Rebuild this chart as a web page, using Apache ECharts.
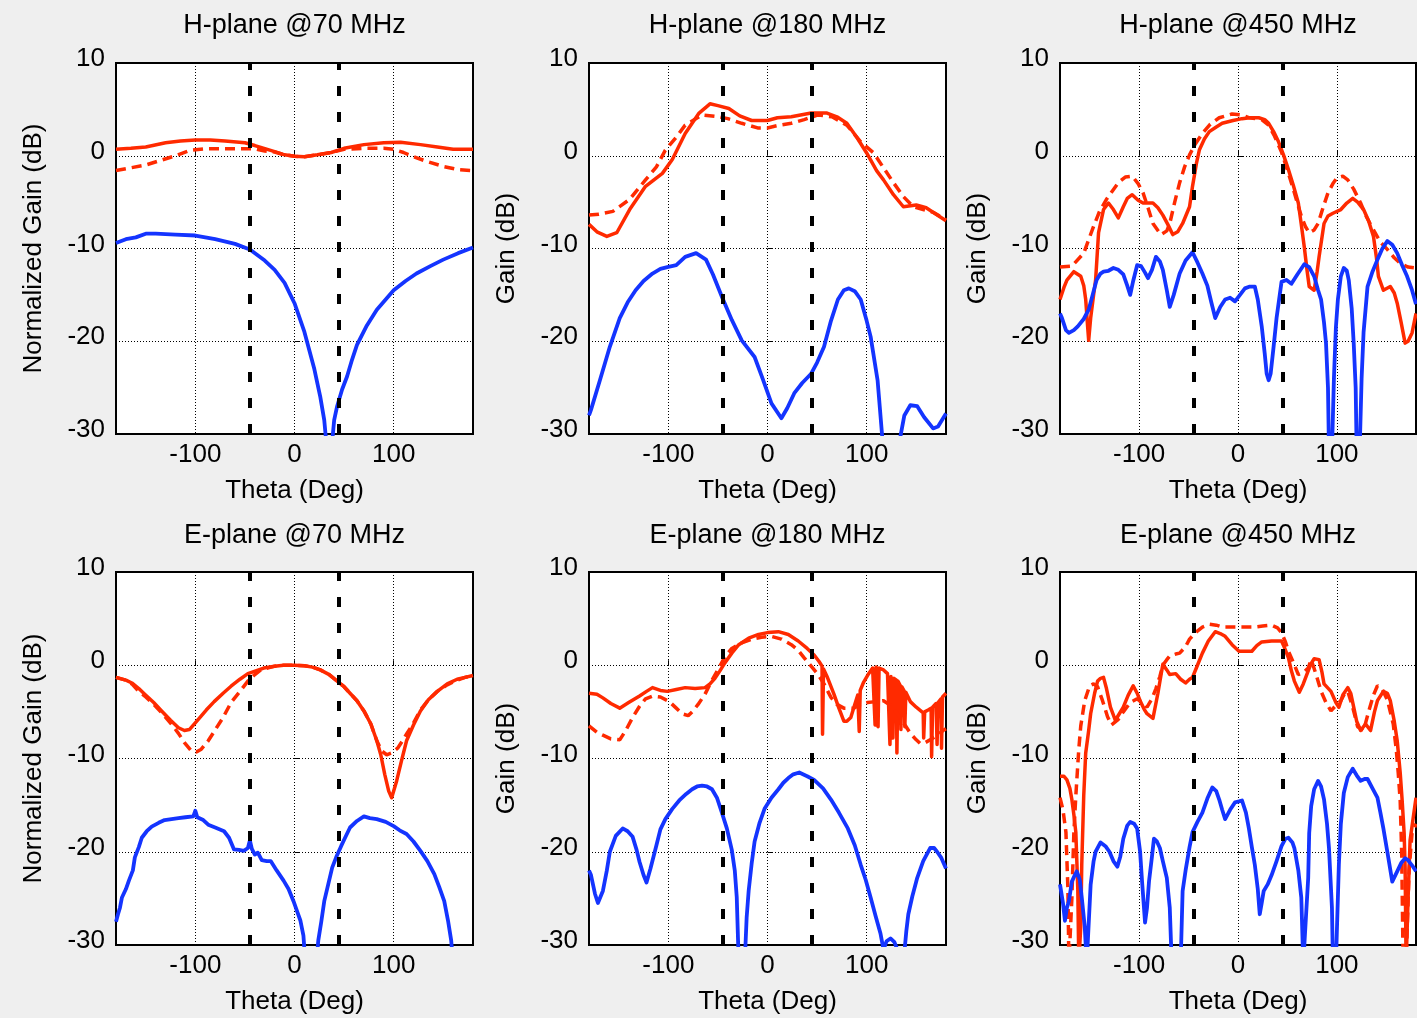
<!DOCTYPE html>
<html><head><meta charset="utf-8">
<script src="https://cdn.jsdelivr.net/npm/echarts@6/dist/echarts.min.js"></script>
<style>html,body{margin:0;padding:0;background:#efefef;}#c{width:1417px;height:1018px;}</style>
</head><body><div id="c"></div>
<script>
const titles = ['H-plane @70 MHz','H-plane @180 MHz','H-plane @450 MHz','E-plane @70 MHz','E-plane @180 MHz','E-plane @450 MHz'];
const yNames = ['Normalized Gain (dB)','Gain (dB)','Gain (dB)','Normalized Gain (dB)','Gain (dB)','Gain (dB)'];
const xName = 'Theta (Deg)';
const xTicks = [-100, 0, 100];
const beamEdges = [-45, 45];

// H-plane 70 MHz
const h70Red = [[-180,0.7],[-165,0.8],[-150,0.95],[-130,1.4],[-115,1.6],[-100,1.7],[-85,1.7],[-70,1.6],[-50,1.4],[-40,1.1],[-34,0.9],[-20,0.45],[-10,0.1],[0,-0.05],[10,-0.1],[23,0.1],[37,0.35],[50,0.8],[70,1.2],[90,1.4],[107,1.45],[127,1.2],[144,0.95],[160,0.7],[180,0.7]];
const h70RedDash = [[-180,-1.6],[-165,-1.3],[-150,-1.0],[-135,-0.5],[-120,0.0],[-105,0.6],[-90,0.75],[-70,0.75],[-50,0.75],[-40,0.75],[-30,0.5],[-20,0.4],[-10,0.1],[0,-0.05],[10,-0.1],[23,0.1],[37,0.35],[50,0.7],[70,0.8],[90,0.8],[100,0.7],[110,0.35],[120,-0.1],[133,-0.6],[150,-1.15],[165,-1.5],[180,-1.6]];
const h70Blue = [[-180,-9.4],[-170,-9.0],[-160,-8.8],[-150,-8.4],[-140,-8.4],[-120,-8.5],[-100,-8.6],[-80,-9.0],[-60,-9.5],[-45,-10.1],[-30,-11.3],[-20,-12.3],[-10,-13.7],[0,-15.9],[10,-19],[20,-23],[26,-26],[30,-28.5],[33,-32],[37,-32],[40,-28.5],[43,-27],[48,-25.2],[53,-23.8],[58,-22],[63,-20.4],[73,-18.3],[83,-16.6],[100,-14.5],[112,-13.5],[123,-12.7],[137,-11.9],[150,-11.2],[165,-10.5],[180,-9.9]];

// H-plane 180 MHz
const h180Red = [[-180,-7.4],[-172,-8.2],[-162,-8.7],[-152,-8.3],[-139,-5.8],[-123,-3.3],[-106,-1.9],[-96,-0.4],[-83,2.4],[-69,4.6],[-58,5.6],[-50,5.4],[-39,5.1],[-28,4.3],[-16,3.8],[0,3.8],[10,4.1],[24,4.2],[44,4.6],[60,4.6],[70,4.2],[80,3.5],[90,2.0],[100,0.3],[110,-1.6],[117,-2.6],[127,-4.2],[137,-5.5],[150,-5.3],[160,-5.6],[170,-6.3],[180,-7.0]];
const h180RedDash = [[-180,-6.4],[-170,-6.3],[-156,-6.0],[-139,-4.7],[-123,-2.6],[-112,-1.2],[-103,0.6],[-92,2.0],[-83,3.3],[-66,4.4],[-49,4.2],[-40,4.0],[-26,3.5],[-10,3.0],[0,3.0],[12,3.3],[24,3.5],[37,3.9],[51,4.4],[65,4.2],[80,3.3],[94,1.5],[107,0.3],[117,-1.3],[127,-2.9],[137,-4.4],[147,-5.5],[157,-5.8],[167,-6.1],[180,-6.9]];
const h180Blue = [[-180,-28],[-178,-27.4],[-169,-24.2],[-159,-20.6],[-149,-17.5],[-141,-15.8],[-133,-14.5],[-125,-13.5],[-116,-12.7],[-108,-12.2],[-101,-12.0],[-92,-11.8],[-83,-10.9],[-72,-10.5],[-62,-11.2],[-55,-12.8],[-46,-15.2],[-36,-17.7],[-26,-19.9],[-13,-21.7],[-5,-24.0],[4,-26.7],[14,-28.3],[20,-27.2],[27,-25.6],[35,-24.5],[44,-23.5],[50,-22.3],[57,-20.6],[64,-17.8],[71,-15.5],[77,-14.5],[82,-14.3],[88,-14.6],[94,-15.5],[100,-17.8],[104,-19.5],[111,-24.2],[117,-32],[131,-32],[138,-28.0],[144,-26.9],[151,-27.0],[158,-28.2],[167,-29.4],[172,-29.2],[180,-27.8]];

// H-plane 450 MHz
const h450Red = [[-180,-15.5],[-176,-14.2],[-173,-13.4],[-166,-12.5],[-159,-13.0],[-156,-14.0],[-154,-15.5],[-152,-18.5],[-151,-19.9],[-149,-17.5],[-146,-15],[-144,-13.4],[-141,-8.3],[-136,-5.8],[-131,-5.1],[-126,-5.8],[-121,-6.7],[-116,-5.5],[-112,-4.6],[-107,-4.2],[-101,-4.8],[-96,-5.1],[-86,-5.1],[-81,-5.6],[-76,-6.4],[-71,-7.4],[-66,-8.5],[-61,-8.2],[-56,-7.3],[-49,-5.5],[-46,-3.3],[-42,-0.8],[-39,0.65],[-34,1.8],[-29,2.6],[-22,3.1],[-16,3.5],[-5,3.8],[4,4.0],[12,4.1],[21,4.1],[27,3.9],[31,3.5],[36,2.6],[41,1.5],[46,0.1],[51,-1.5],[56,-3.2],[61,-5.1],[64,-7.4],[67,-9.8],[70,-12.5],[72,-14.1],[77,-14.5],[80,-12.5],[82,-10.9],[87,-7.3],[91,-6.5],[96,-6.2],[104,-5.8],[110,-5.1],[116,-4.6],[121,-5.0],[127,-5.8],[132,-7.0],[137,-8.7],[140,-11],[142,-13.0],[147,-14.5],[154,-14.1],[158,-14.8],[161,-15.9],[165,-18],[169,-20.2],[172,-20.0],[176,-19.1],[180,-17]];
const h450RedDash = [[-180,-12.0],[-168,-11.9],[-156,-10.5],[-146,-7.6],[-140,-6.0],[-133,-4.7],[-127,-3.8],[-121,-2.9],[-114,-2.3],[-107,-2.2],[-101,-3.0],[-96,-4.0],[-91,-5.6],[-86,-7.3],[-78,-8.5],[-72,-8.1],[-69,-7.3],[-64,-5.0],[-59,-2.9],[-54,-1.2],[-49,0.1],[-43,1.3],[-36,2.4],[-28,3.4],[-19,4.1],[-6,4.5],[3,4.4],[11,4.1],[24,3.9],[31,3.3],[37,2.1],[44,0.4],[51,-1.9],[57,-4.0],[64,-6.5],[68,-7.6],[72,-8.3],[77,-8.0],[81,-7.3],[86,-5.6],[91,-4.0],[96,-3.0],[100,-2.4],[106,-2.2],[111,-2.6],[117,-3.6],[124,-5.1],[130,-6.6],[137,-8.0],[144,-9.3],[151,-10.1],[158,-11.0],[164,-11.6],[172,-12.0],[180,-12.1]];
const h450Blue = [[-180,-17],[-178,-17.5],[-174,-18.8],[-171,-19.1],[-166,-18.8],[-162,-18.4],[-156,-17.6],[-151,-16.6],[-147,-15.0],[-143,-13.4],[-139,-12.7],[-136,-12.5],[-131,-12.4],[-126,-12.1],[-121,-12.3],[-116,-12.8],[-112,-14.0],[-109,-15.0],[-106,-13.5],[-102,-11.8],[-98,-11.9],[-94,-12.6],[-91,-13.2],[-87,-12.3],[-83,-10.9],[-79,-11.4],[-76,-12.3],[-72,-14.5],[-69,-16.3],[-65,-15.0],[-59,-12.7],[-53,-11.3],[-46,-10.4],[-41,-11.5],[-36,-12.7],[-31,-14.0],[-27,-15.8],[-23,-17.5],[-18,-16.3],[-13,-15.5],[-8,-15.3],[-3,-15.7],[2,-15.0],[7,-14.3],[12,-14.1],[17,-14.1],[20,-15.5],[24,-18.4],[27,-21.3],[29,-23.5],[31,-24.2],[33,-23.5],[36,-20.6],[39,-17.5],[44,-13.6],[49,-13.4],[54,-13.8],[60,-12.8],[67,-11.7],[72,-12.0],[77,-13.0],[81,-14.5],[84,-15.5],[87,-18],[89,-20.2],[91,-25],[92,-32],[95,-32],[97,-24],[99,-18.5],[101,-15.5],[104,-13.0],[107,-12.1],[110,-12.4],[112,-13.4],[115,-16.5],[117,-20.2],[119,-25],[120,-32],[123,-32],[125,-24],[127,-19],[131,-14.1],[136,-12.5],[141,-11.2],[146,-10.0],[151,-9.2],[156,-9.6],[161,-10.5],[166,-11.8],[171,-13.0],[176,-14.5],[180,-16.0]];

// E-plane 70 MHz
const e70Red = [[-180,-1.3],[-170,-1.6],[-164,-1.9],[-157,-2.5],[-151,-3.1],[-142,-4.0],[-134,-4.9],[-125,-5.9],[-117,-6.7],[-111,-7.0],[-106,-6.9],[-97,-5.8],[-89,-4.8],[-81,-3.9],[-72,-3.0],[-64,-2.25],[-55,-1.5],[-47,-0.9],[-39,-0.6],[-31,-0.3],[-20,-0.1],[-11,0],[0,0],[10,-0.05],[18,-0.2],[26,-0.5],[35,-1.0],[43,-1.7],[50,-2.3],[56,-3.0],[63,-3.8],[70,-4.9],[77,-6.3],[83,-8.1],[87,-9.6],[91,-11.7],[95,-13.5],[98,-14.2],[100,-14.1],[103,-12.4],[108,-10.2],[113,-8.1],[120,-6.4],[127,-4.9],[135,-3.7],[144,-2.8],[154,-2.0],[164,-1.5],[172,-1.3],[180,-1.1]];
const e70RedDash = [[-180,-1.3],[-170,-1.6],[-164,-2.0],[-157,-2.8],[-151,-3.3],[-142,-4.2],[-134,-5.1],[-125,-6.2],[-117,-7.3],[-111,-8.3],[-104,-9.2],[-99,-9.3],[-94,-9.0],[-87,-8.1],[-81,-7.1],[-72,-5.6],[-64,-4.0],[-55,-2.8],[-47,-1.7],[-40,-1.0],[-34,-0.5],[-20,-0.1],[-11,0],[0,0],[10,-0.05],[18,-0.2],[26,-0.5],[35,-1.0],[43,-1.7],[50,-2.3],[56,-3.0],[63,-3.8],[70,-4.9],[77,-6.3],[83,-8.1],[88,-9.2],[93,-9.6],[98,-9.4],[104,-8.9],[109,-8.1],[114,-7.2],[119,-6.4],[127,-4.8],[135,-3.7],[144,-2.8],[154,-2.1],[164,-1.6],[172,-1.3],[180,-1.1]];
const e70Blue = [[-180,-27.5],[-178,-26.7],[-176,-26.0],[-174,-24.9],[-170,-24.0],[-167,-23.1],[-163,-22.0],[-161,-20.6],[-157,-19.5],[-154,-18.5],[-149,-17.8],[-144,-17.3],[-137,-16.9],[-131,-16.6],[-124,-16.5],[-117,-16.4],[-110,-16.3],[-102,-16.2],[-100,-15.6],[-98,-16.3],[-92,-16.6],[-87,-17.1],[-80,-17.4],[-71,-17.8],[-66,-18.5],[-61,-19.75],[-56,-19.8],[-51,-19.9],[-47,-19.6],[-45,-18.8],[-43,-19.7],[-40,-20.3],[-37,-20.1],[-33,-20.9],[-28,-21.0],[-24,-21.0],[-18,-22.0],[-11,-23.1],[-6,-24.0],[-1,-25.3],[3,-26.5],[6,-27.4],[9,-29.0],[11,-32],[22,-32],[24,-29.5],[27,-27.5],[30,-25.3],[34,-23.5],[38,-21.7],[42,-20.6],[47,-19.4],[51,-18.5],[56,-17.4],[63,-16.7],[70,-16.2],[76,-16.4],[83,-16.5],[92,-16.8],[100,-17.25],[106,-17.7],[113,-18.1],[120,-18.9],[127,-19.9],[134,-21.0],[141,-22.4],[146,-23.8],[151,-25.3],[155,-27.5],[158,-29.5],[160,-32]];

// E-plane 180 MHz
const e180Red = [[-180,-3.0],[-172,-3.1],[-166,-3.5],[-158,-4.1],[-149,-4.6],[-140,-4.0],[-129,-3.3],[-122,-2.8],[-116,-2.4],[-108,-2.7],[-101,-2.8],[-92,-2.6],[-83,-2.4],[-73,-2.5],[-63,-2.4],[-58,-2.0],[-53,-1.4],[-48,-0.6],[-43,0.25],[-36,1.3],[-29,2.2],[-19,2.9],[-9,3.3],[0,3.5],[11,3.6],[21,3.3],[31,2.6],[40,1.8],[47,1.1],[52,0.4],[55,-0.1],[55.5,-7.4],[56.5,-0.4],[60,-1.2],[67,-3.1],[72,-4.6],[77,-6.0],[80,-6.0],[84,-5.6],[88,-4.2],[91,-3.2],[92.5,-7.1],[93.5,-2.7],[97,-1.8],[102,-0.9],[106,-0.3],[108,-0.3],[108.5,-6.4],[109.5,-0.2],[111,-0.3],[111.5,-6.6],[112.5,-0.3],[117,-0.5],[121,-0.9],[123,-1.1],[123.5,-8.5],[124.5,-1.2],[126,-1.3],[126.5,-7.8],[127.5,-1.4],[130,-1.6],[130.5,-9.4],[131.5,-1.7],[134,-2.2],[134.5,-6.9],[135.5,-2.3],[138,-2.8],[138.5,-6.6],[139.5,-2.9],[144,-3.9],[150,-4.5],[157,-5.1],[157.5,-7.8],[158.5,-5.0],[162,-4.8],[165,-4.6],[165.5,-9.8],[166.5,-4.5],[170,-4.1],[171,-8.5],[172,-4.0],[175,-3.6],[175.5,-8.9],[176.5,-3.4],[180,-3.0]];
const e180RedDash = [[-180,-6.5],[-172,-7.2],[-166,-7.5],[-158,-7.9],[-149,-8.0],[-143,-7.0],[-136,-5.6],[-129,-4.4],[-123,-3.6],[-116,-3.3],[-108,-3.4],[-99,-3.9],[-92,-4.6],[-86,-5.2],[-80,-5.4],[-76,-5.0],[-70,-4.2],[-63,-3.1],[-56,-1.6],[-49,-0.3],[-43,0.9],[-36,1.8],[-26,2.4],[-16,2.8],[-6,3.0],[4,3.1],[14,2.8],[24,2.2],[31,1.6],[37,0.8],[44,-0.1],[51,-1.0],[57,-2.0],[64,-3.45],[70,-4.2],[77,-4.6],[82,-4.6],[87,-4.6],[94,-4.2],[101,-4.0],[109,-3.9],[117,-3.8],[124,-4.3],[131,-5.2],[138,-6.3],[144,-7.3],[150,-8.0],[154,-8.4],[159,-8.3],[164,-8.0],[170,-7.6],[177,-7.0],[180,-6.8]];
const e180Blue = [[-180,-22.0],[-178,-22.5],[-174,-24.5],[-171,-25.5],[-166,-24.2],[-162,-22.0],[-159,-20.0],[-153,-18.3],[-146,-17.5],[-141,-17.8],[-136,-18.4],[-132,-19.8],[-129,-21.1],[-125,-22.5],[-122,-23.3],[-118,-21.8],[-112,-19.3],[-108,-17.6],[-103,-16.5],[-96,-15.4],[-89,-14.5],[-82,-13.8],[-76,-13.3],[-71,-13.0],[-66,-12.9],[-61,-13.0],[-56,-13.3],[-51,-14.2],[-46,-15.8],[-41,-17.5],[-36,-19.8],[-33,-22.0],[-31,-24.9],[-29,-32],[-23,-32],[-21,-27],[-19,-24.2],[-16,-21.3],[-13,-18.9],[-8,-16.9],[-3,-15.4],[4,-14.2],[11,-13.3],[16,-12.6],[21,-12.1],[26,-11.7],[32,-11.5],[40,-11.9],[47,-12.3],[56,-13.2],[64,-14.4],[72,-15.8],[81,-17.5],[88,-19.3],[94,-21.4],[99,-23.0],[104,-24.9],[109,-26.9],[114,-28.8],[117,-30.5],[120,-29.6],[124,-29.3],[128,-29.7],[131,-30.5],[137,-32],[140,-28.5],[142,-26.7],[146,-24.8],[151,-22.8],[157,-21.0],[164,-19.6],[168,-19.6],[171,-20.0],[175,-20.6],[180,-21.8]];

// E-plane 450 MHz
const e450Red = [[-180,-11.9],[-176,-11.9],[-173,-12.3],[-170,-13.2],[-168,-14.4],[-166,-16],[-164,-17.9],[-162,-24],[-161,-32],[-159,-28],[-158,-21.4],[-156,-14],[-154,-9.4],[-151,-7.0],[-149,-5.2],[-145,-3.0],[-142,-1.7],[-139,-1.4],[-136,-1.3],[-133,-2.5],[-129,-4.5],[-124,-5.9],[-120,-5.2],[-116,-4.5],[-111,-3.2],[-106,-2.2],[-102,-3.0],[-99,-3.8],[-95,-4.7],[-92,-5.2],[-86,-5.7],[-81,-3.0],[-76,0.1],[-72,-0.5],[-69,-1.0],[-63,-0.9],[-58,-1.5],[-53,-1.9],[-49,-1.5],[-46,-1.3],[-41,0.0],[-36,1.3],[-30,2.6],[-23,3.6],[-18,3.4],[-13,3.1],[-6,2.2],[1,1.5],[8,1.5],[14,1.5],[19,2.1],[24,2.5],[34,2.6],[44,2.6],[47,1.9],[51,0.8],[54,-0.6],[57,-1.7],[62,-2.9],[66,-2.0],[71,-0.6],[74,0.2],[77,0.7],[82,0.6],[85,-0.8],[87,-2.0],[94,-2.8],[99,-4.0],[102,-4.5],[106,-3.2],[111,-2.4],[114,-3.0],[117,-4.5],[120,-6.0],[124,-7.0],[129,-6.3],[134,-7.0],[138,-5.0],[141,-3.8],[147,-2.8],[151,-3.0],[154,-3.8],[158,-6.0],[161,-8.1],[164,-11.5],[166,-14.5],[168,-18.0],[169,-21.7],[170,-32],[172,-25],[174,-18.8],[177,-16.5],[180,-14.2]];
const e450RedDash = [[-180,-14.2],[-177,-15.5],[-174,-17.9],[-172,-24],[-171,-32],[-169,-32],[-168,-25],[-166,-18],[-164,-14],[-161,-9],[-159,-6.5],[-155,-3.8],[-150,-2.2],[-146,-2.0],[-142,-2.3],[-137,-3.8],[-132,-5.5],[-128,-6.4],[-126,-6.6],[-121,-5.8],[-116,-5.0],[-109,-4.0],[-102,-3.6],[-97,-4.0],[-92,-4.5],[-87,-3.6],[-83,-2.5],[-79,-1.2],[-76,0],[-72,0.6],[-69,1.0],[-63,1.2],[-59,1.3],[-53,2.0],[-49,2.8],[-43,3.5],[-36,4.1],[-29,4.4],[-22,4.3],[-16,4.1],[-6,4.1],[1,4.1],[10,4.1],[17,4.1],[25,4.2],[34,4.3],[40,4.0],[44,3.5],[48,2.5],[51,1.5],[56,0.3],[61,-1.0],[66,-0.8],[71,-0.3],[74,0.6],[79,-1.0],[84,-2.8],[89,-4.0],[94,-4.9],[99,-4.3],[104,-3.8],[108,-3.0],[111,-2.8],[116,-4.5],[121,-6.6],[127,-7.0],[132,-5.0],[137,-3.2],[141,-2.2],[146,-2.6],[151,-3.7],[154,-5.0],[157,-6.3],[160,-9.0],[162,-11.5],[164,-14.5],[165.5,-20],[167,-32],[170,-32],[173,-22],[176,-18],[180,-17]];
const e450Blue = [[-180,-23.5],[-177,-25.5],[-175,-27.4],[-173,-26],[-171,-25.3],[-168,-23.2],[-165,-22.5],[-163,-22.1],[-160,-23.0],[-158,-24.9],[-155,-28],[-153,-32],[-151,-32],[-149,-23.5],[-146,-21.0],[-144,-20.0],[-139,-19.0],[-134,-19.4],[-130,-20.0],[-126,-21.0],[-122,-21.6],[-119,-20.5],[-116,-18.6],[-112,-17.2],[-109,-16.8],[-105,-17.0],[-102,-17.5],[-99,-20],[-97,-23.2],[-94,-27.6],[-92,-26],[-90,-23.2],[-87,-20.5],[-85,-18.6],[-82,-18.9],[-79,-19.6],[-76,-21.0],[-72,-22.8],[-69,-26],[-67,-32],[-58,-32],[-56,-24.2],[-53,-22],[-49,-19.5],[-46,-17.9],[-41,-16.8],[-36,-15.8],[-31,-14.3],[-26,-13.1],[-22,-13.5],[-19,-14.4],[-16,-15.5],[-13,-16.5],[-8,-15.5],[-3,-14.7],[1,-14.6],[4,-14.5],[8,-15.8],[11,-17.5],[14,-19.5],[17,-21.4],[20,-24],[22,-26.7],[24,-25.5],[26,-24.2],[30,-23.5],[34,-22.5],[39,-21.0],[44,-19.4],[48,-18.6],[51,-18.5],[55,-19.0],[57,-19.6],[61,-22],[64,-24.9],[66,-32],[68,-32],[71,-22.8],[72,-18],[74,-15.1],[77,-13.3],[81,-12.4],[84,-13.0],[87,-14.4],[90,-17],[92,-19.6],[95,-26],[96,-32],[99,-32],[102,-21.4],[104,-17],[107,-13.7],[111,-12.0],[116,-11.1],[120,-11.8],[124,-12.4],[128,-12.2],[131,-12.2],[136,-13.2],[141,-14.2],[144,-15.8],[147,-17.5],[151,-20],[156,-23.2],[158,-23.0],[161,-22.1],[165,-21.2],[169,-20.7],[172,-20.9],[174,-21.2],[177,-21.6],[180,-22.1]];

const panels = [
  [h70Red, h70RedDash, h70Blue],
  [h180Red, h180RedDash, h180Blue],
  [h450Red, h450RedDash, h450Blue],
  [e70Red, e70RedDash, e70Blue],
  [e180Red, e180RedDash, e180Blue],
  [e450Red, e450RedDash, e450Blue]
];

const FONT = '"Liberation Sans", Arial, sans-serif';
const RED = '#ff2a00', BLUE = '#1434ff';
const colLeft = [116, 589, 1060];
const colWidth = [357, 357, 356];
const rowTop = [63, 572];
const rowHeight = [371, 373];
const titleTop = [12, 522];

const grid = [], xAxis = [], yAxis = [], title = [], series = [];
for (let i = 0; i < 6; i++) {
  const r = Math.floor(i / 3), c = i % 3;
  grid.push({left: colLeft[c], top: rowTop[r], width: colWidth[c], height: rowHeight[r],
    show: true, backgroundColor: '#ffffff', borderColor: '#000', borderWidth: 2, containLabel: false});
  title.push({text: titles[i], left: colLeft[c] + colWidth[c] / 2, top: titleTop[r], textAlign: 'center', padding: 0,
    textStyle: {fontFamily: FONT, fontSize: 27, fontWeight: 'normal', color: '#000'}});
  xAxis.push({type: 'value', gridIndex: i, min: -180, max: 180,
    name: xName, nameLocation: 'middle', nameGap: 44,
    nameTextStyle: {fontFamily: FONT, fontSize: 26, color: '#000'},
    axisLine: {show: false},
    axisTick: {show: true, inside: true, length: 5, customValues: xTicks, lineStyle: {color: '#000', width: 1}},
    axisLabel: {customValues: xTicks, margin: 8, fontFamily: FONT, fontSize: 26, color: '#000'},
    splitLine: {show: true, lineStyle: {color: '#000', width: 1, type: [1, 2]}}
  });
  yAxis.push({type: 'value', gridIndex: i, min: -30, max: 10, interval: 10,
    name: yNames[i], nameLocation: 'middle', nameGap: 69,
    nameTextStyle: {fontFamily: FONT, fontSize: 26, color: '#000'},
    axisLine: {show: false},
    axisTick: {show: true, inside: true, length: 5, lineStyle: {color: '#000', width: 1}},
    axisLabel: {margin: 11, fontFamily: FONT, fontSize: 26, color: '#000', showMinLabel: true, showMaxLabel: true,
      verticalAlign: 'bottom', lineHeight: 8},
    splitLine: {show: true, lineStyle: {color: '#000', width: 1, type: [1, 2]}}
  });
  const [red, redDash, blue] = panels[i];
  series.push({type: 'line', xAxisIndex: i, yAxisIndex: i, data: red, symbol: 'none', clip: true, animation: false,
    itemStyle: {color: RED}, lineStyle: {color: RED, width: 3.5, join: 'round'}});
  series.push({type: 'line', xAxisIndex: i, yAxisIndex: i, data: redDash, symbol: 'none', clip: true, animation: false,
    itemStyle: {color: RED}, lineStyle: {color: RED, width: 3.5, type: [10, 6]}});
  series.push({type: 'line', xAxisIndex: i, yAxisIndex: i, data: blue, symbol: 'none', clip: true, animation: false,
    itemStyle: {color: BLUE}, lineStyle: {color: BLUE, width: 3.8, join: 'round'},
    markLine: {silent: true, animation: false, symbol: ['none', 'none'], label: {show: false},
      lineStyle: {color: '#000', width: 4, type: [10, 16]},
      data: beamEdges.map(v => ({xAxis: v}))}
  });
}

const chart = echarts.init(document.getElementById('c'), null, {renderer: 'canvas'});
chart.setOption({backgroundColor: '#efefef', animation: false, title, grid, xAxis, yAxis, series});
</script></body></html>
